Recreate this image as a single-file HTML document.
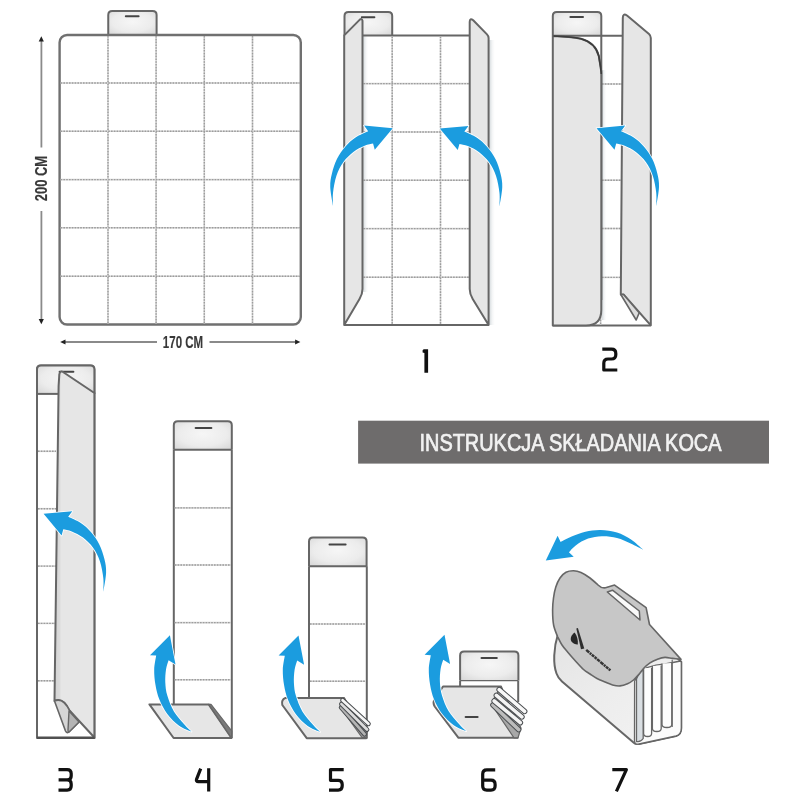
<!DOCTYPE html>
<html><head><meta charset="utf-8"><style>
html,body{margin:0;padding:0;background:#fff;}
svg{display:block;filter:blur(0.45px);}
.dt{stroke:#9c9c9c;stroke-width:1.4;stroke-dasharray:1.6 1.2;fill:none;}
.ar{stroke:#fff;stroke-width:1.6;paint-order:stroke;stroke-linejoin:round;}
.dtb{stroke:#d6d6d6;stroke-width:1.6;fill:none;}
.dim{stroke:#8a8a8a;stroke-width:1.8;}
.cm{font-family:"Liberation Sans",sans-serif;font-weight:bold;font-size:16px;fill:#383838;stroke:#383838;stroke-width:0.15;}
.ban{font-family:"Liberation Sans",sans-serif;font-weight:normal;font-size:23.5px;fill:#f2f2f2;stroke:#f2f2f2;stroke-width:0.7;}
</style></head><body>
<svg width="800" height="800" viewBox="0 0 800 800">
<defs>
<radialGradient id="tabg" cx="0.5" cy="0.45" r="0.7">
<stop offset="0" stop-color="#f6f6f6"/><stop offset="0.6" stop-color="#ececec"/><stop offset="1" stop-color="#d8d8d8"/>
</radialGradient>
<linearGradient id="strip3" x1="0" y1="0" x2="1" y2="0">
<stop offset="0" stop-color="#d2d2d2"/><stop offset="0.14" stop-color="#dcdcdc"/><stop offset="0.16" stop-color="#e6e6e6"/><stop offset="1" stop-color="#e6e6e6"/>
</linearGradient>
<linearGradient id="bodyg" x1="0" y1="0" x2="1" y2="1">
<stop offset="0" stop-color="#e4e4e4"/><stop offset="0.5" stop-color="#ededed"/><stop offset="1" stop-color="#f3f3f3"/>
</linearGradient>
<linearGradient id="shR" x1="0" y1="0" x2="1" y2="0">
<stop offset="0" stop-color="#c4ccd0" stop-opacity="0.75"/><stop offset="1" stop-color="#ffffff" stop-opacity="0"/>
</linearGradient>
</defs>
<path d="M108.25,35 V15 Q108.25,11 112.25,11 H152.6 Q156.6,11 156.6,15 V35" fill="url(#tabg)" stroke="#666666" stroke-width="2.0"/>
<line x1="125.8" y1="16.2" x2="138.6" y2="16.2" stroke="#444" stroke-width="2" stroke-linecap="round"/>
<rect x="59.6" y="35" width="241.2" height="289.5" rx="7.5" ry="7.5" fill="#fff" stroke="#707070" stroke-width="2.4"/>
<line x1="108" y1="36" x2="108" y2="323.5" class="dtb"/>
<line x1="108" y1="36" x2="108" y2="323.5" class="dt"/>
<line x1="156.1" y1="36" x2="156.1" y2="323.5" class="dtb"/>
<line x1="156.1" y1="36" x2="156.1" y2="323.5" class="dt"/>
<line x1="204.3" y1="36" x2="204.3" y2="323.5" class="dtb"/>
<line x1="204.3" y1="36" x2="204.3" y2="323.5" class="dt"/>
<line x1="252.5" y1="36" x2="252.5" y2="323.5" class="dtb"/>
<line x1="252.5" y1="36" x2="252.5" y2="323.5" class="dt"/>
<line x1="60.6" y1="83" x2="300" y2="83" class="dtb"/>
<line x1="60.6" y1="83" x2="300" y2="83" class="dt"/>
<line x1="60.6" y1="131.3" x2="300" y2="131.3" class="dtb"/>
<line x1="60.6" y1="131.3" x2="300" y2="131.3" class="dt"/>
<line x1="60.6" y1="179.6" x2="300" y2="179.6" class="dtb"/>
<line x1="60.6" y1="179.6" x2="300" y2="179.6" class="dt"/>
<line x1="60.6" y1="227.8" x2="300" y2="227.8" class="dtb"/>
<line x1="60.6" y1="227.8" x2="300" y2="227.8" class="dt"/>
<line x1="60.6" y1="276.2" x2="300" y2="276.2" class="dtb"/>
<line x1="60.6" y1="276.2" x2="300" y2="276.2" class="dt"/>
<line x1="41.4" y1="40" x2="41.4" y2="147.5" class="dim"/>
<line x1="41.4" y1="211" x2="41.4" y2="320" class="dim"/>
<path d="M41.3,36.3 L43.9,41.6 L38.7,41.6 Z" fill="#222"/>
<path d="M41.3,324.2 L43.9,318.9 L38.7,318.9 Z" fill="#222"/>
<line x1="64" y1="342" x2="157" y2="342" class="dim"/>
<line x1="209.5" y1="342" x2="296" y2="342" class="dim"/>
<path d="M60.2,342 L65.5,339.4 L65.5,344.6 Z" fill="#222"/>
<path d="M300.4,342 L295.1,339.4 L295.1,344.6 Z" fill="#222"/>
<text class="cm" transform="translate(47.2,178.5) rotate(-90) scale(0.77,1)" text-anchor="middle" style="font-size:16.8px">200 CM</text>
<text class="cm" transform="translate(183,347.9) scale(0.72,1)" text-anchor="middle">170 CM</text>
<path d="M344.5,35.6 V15.9 Q344.5,11.9 348.5,11.9 H388.2 Q392.2,11.9 392.2,15.9 V35.6" fill="url(#tabg)" stroke="#666666" stroke-width="2.0"/>
<line x1="361.8" y1="17.2" x2="374.4" y2="17.2" stroke="#444" stroke-width="2" stroke-linecap="round"/>
<rect x="362.5" y="35.6" width="107.2" height="289.4" fill="#fff"/>
<rect x="363.3" y="36" width="5.5" height="256" fill="url(#shR)"/>
<rect x="489.4" y="40" width="6" height="285" fill="url(#shR)"/>
<path d="M362.5,35.6 H469.7" fill="none" stroke="#666666" stroke-width="2.0" stroke-linejoin="round" />
<path d="M344.2,325 H488.6" fill="none" stroke="#666666" stroke-width="2.0" stroke-linejoin="round" />
<line x1="392.2" y1="36.5" x2="392.2" y2="324" class="dtb"/>
<line x1="392.2" y1="36.5" x2="392.2" y2="324" class="dt"/>
<line x1="440.5" y1="36.5" x2="440.5" y2="324" class="dtb"/>
<line x1="440.5" y1="36.5" x2="440.5" y2="324" class="dt"/>
<line x1="363.5" y1="83.6" x2="469" y2="83.6" class="dtb"/>
<line x1="363.5" y1="83.6" x2="469" y2="83.6" class="dt"/>
<line x1="363.5" y1="132" x2="469" y2="132" class="dtb"/>
<line x1="363.5" y1="132" x2="469" y2="132" class="dt"/>
<line x1="363.5" y1="180.2" x2="469" y2="180.2" class="dtb"/>
<line x1="363.5" y1="180.2" x2="469" y2="180.2" class="dt"/>
<line x1="363.5" y1="228.6" x2="469" y2="228.6" class="dtb"/>
<line x1="363.5" y1="228.6" x2="469" y2="228.6" class="dt"/>
<line x1="363.5" y1="277.2" x2="469" y2="277.2" class="dtb"/>
<line x1="363.5" y1="277.2" x2="469" y2="277.2" class="dt"/>
<path d="M344.2,325 V35.4 L359.8,19.6 Q361.8,18 362.5,20.8 V289 Q362.5,294 359.5,299 L344.2,325 Z" fill="#e6e6e6" stroke="#666666" stroke-width="2.0" stroke-linejoin="round" />
<path d="M488.6,325 V38 Q488.6,36 487,34.4 L473.2,20.3 Q469.7,17.5 469.7,22 V289 Q469.7,294 472.7,299 L488.6,325 Z" fill="#e6e6e6" stroke="#666666" stroke-width="2.0" stroke-linejoin="round" />
<path transform="translate(392.75,128.2) scale(-1,1)" d="M0,0 L28.7,-2.6 L24.6,3 C26.7,4.03 33.42,6.67 37.2,9.2 C40.98,11.73 44.22,14.63 47.3,18.2 C50.38,21.77 53.45,26.1 55.7,30.6 C57.95,35.1 59.67,40.52 60.8,45.2 C61.93,49.88 62.68,53.25 62.5,58.7 C62.32,64.15 60.17,74.7 59.7,77.9 C59.7,75.63 60.27,69.37 59.7,64.3 C59.13,59.23 58,52.55 56.3,47.5 C54.6,42.45 52.32,37.95 49.5,34 C46.68,30.05 42.95,26.53 39.4,23.8 C35.85,21.07 31.48,19 28.2,17.6 C24.92,16.2 21.12,15.77 19.7,15.4 L18,21.6 Z" fill="#1b9cdf" class="ar"/>
<path transform="translate(439.75,128.5)" d="M0,0 L28.7,-2.6 L24.6,3 C26.7,4.03 33.42,6.67 37.2,9.2 C40.98,11.73 44.22,14.63 47.3,18.2 C50.38,21.77 53.45,26.1 55.7,30.6 C57.95,35.1 59.67,40.52 60.8,45.2 C61.93,49.88 62.68,53.25 62.5,58.7 C62.32,64.15 60.17,74.7 59.7,77.9 C59.7,75.63 60.27,69.37 59.7,64.3 C59.13,59.23 58,52.55 56.3,47.5 C54.6,42.45 52.32,37.95 49.5,34 C46.68,30.05 42.95,26.53 39.4,23.8 C35.85,21.07 31.48,19 28.2,17.6 C24.92,16.2 21.12,15.77 19.7,15.4 L18,21.6 Z" fill="#1b9cdf" class="ar"/>
<path d="M552.8,35.7 V16 Q552.8,12 556.8,12 H597.3 Q601.3,12 601.3,16 V35.7" fill="url(#tabg)" stroke="#666666" stroke-width="2.0"/>
<line x1="570.4" y1="16.9" x2="583" y2="16.9" stroke="#444" stroke-width="2" stroke-linecap="round"/>
<rect x="601.3" y="35.7" width="21.5" height="289.8" fill="#fff"/>
<rect x="602" y="70" width="5" height="250" fill="url(#shR)"/>
<path d="M552.8,35.7 H622.8" fill="none" stroke="#666666" stroke-width="2.0" stroke-linejoin="round" />
<path d="M552.8,325.5 H650.8" fill="none" stroke="#666666" stroke-width="2.0" stroke-linejoin="round" />
<line x1="602" y1="84" x2="622" y2="84" class="dtb"/>
<line x1="602" y1="84" x2="622" y2="84" class="dt"/>
<line x1="602" y1="132.2" x2="622" y2="132.2" class="dtb"/>
<line x1="602" y1="132.2" x2="622" y2="132.2" class="dt"/>
<line x1="602" y1="180.2" x2="622" y2="180.2" class="dtb"/>
<line x1="602" y1="180.2" x2="622" y2="180.2" class="dt"/>
<line x1="602" y1="228.5" x2="622" y2="228.5" class="dtb"/>
<line x1="602" y1="228.5" x2="622" y2="228.5" class="dt"/>
<line x1="602" y1="277.4" x2="622" y2="277.4" class="dtb"/>
<line x1="602" y1="277.4" x2="622" y2="277.4" class="dt"/>
<path d="M601.3,35.7 V300" fill="none" stroke="#666666" stroke-width="2.0" stroke-linejoin="round" />
<line x1="600.6" y1="300" x2="600.6" y2="324.5" class="dtb"/>
<line x1="600.6" y1="300" x2="600.6" y2="324.5" class="dt"/>
<path d="M552.8,325.5 V36 Q571,36.6 581,38.8 C591,41.5 596.5,47 598.8,56 L600.6,67 L601.3,72 V310 Q601.3,325.5 586,325.5 Z" fill="#e6e6e6" stroke="#666666" stroke-width="2.0" stroke-linejoin="round" />
<path d="M553.5,36 Q571,36.6 581,38.8 C591,41.5 596.5,47 598.8,56 L600.6,67 L601.3,74" fill="none" stroke="#3c3c3c" stroke-width="1.6" stroke-linejoin="round" />
<path d="M650.8,325.3 V38 Q650.8,35.6 649,34 L627,15.5 Q622.8,12.8 622.8,18 L620.8,294.5 H623.5 L650.8,325.3 Z" fill="#e6e6e6" stroke="#666666" stroke-width="2.0" stroke-linejoin="round" />
<path d="M620.8,294.5 H623.5 L639.2,312.8 L636.2,320 Z" fill="#dedede" stroke="#666666" stroke-width="1.6" stroke-linejoin="round" />
<path transform="translate(596.5,128.2)" d="M0,0 L28.7,-2.6 L24.6,3 C26.7,4.03 33.42,6.67 37.2,9.2 C40.98,11.73 44.22,14.63 47.3,18.2 C50.38,21.77 53.45,26.1 55.7,30.6 C57.95,35.1 59.67,40.52 60.8,45.2 C61.93,49.88 62.68,53.25 62.5,58.7 C62.32,64.15 60.17,74.7 59.7,77.9 C59.7,75.63 60.27,69.37 59.7,64.3 C59.13,59.23 58,52.55 56.3,47.5 C54.6,42.45 52.32,37.95 49.5,34 C46.68,30.05 42.95,26.53 39.4,23.8 C35.85,21.07 31.48,19 28.2,17.6 C24.92,16.2 21.12,15.77 19.7,15.4 L18,21.6 Z" fill="#1b9cdf" class="ar"/>
<rect x="358.1" y="420.7" width="410.9" height="42.9" fill="#6e6c6c"/>
<text class="ban" transform="translate(570.5,450.7) scale(0.848,1)" text-anchor="middle">INSTRUKCJA SKŁADANIA KOCA</text>
<path d="M37,738 V369.6 Q37,365.6 41,365.6 H90.4 Q94.4,365.6 94.4,369.6 V738 Z" fill="#fff" stroke="#666666" stroke-width="2.0" stroke-linejoin="round" />
<path d="M37,393.9 V369.6 Q37,365.6 41,365.6 H90.4 Q94.4,365.6 94.4,369.6 V393.9" fill="url(#tabg)" stroke="#666666" stroke-width="2.0"/>
<line x1="59.6" y1="371.8" x2="73.4" y2="371.8" stroke="#444" stroke-width="2" stroke-linecap="round"/>
<line x1="38" y1="451.3" x2="56" y2="451.3" class="dtb"/>
<line x1="38" y1="451.3" x2="56" y2="451.3" class="dt"/>
<line x1="38" y1="508.7" x2="56" y2="508.7" class="dtb"/>
<line x1="38" y1="508.7" x2="56" y2="508.7" class="dt"/>
<line x1="38" y1="566.1" x2="56" y2="566.1" class="dtb"/>
<line x1="38" y1="566.1" x2="56" y2="566.1" class="dt"/>
<line x1="38" y1="623.4" x2="56" y2="623.4" class="dtb"/>
<line x1="38" y1="623.4" x2="56" y2="623.4" class="dt"/>
<line x1="38" y1="680.8" x2="56" y2="680.8" class="dtb"/>
<line x1="38" y1="680.8" x2="56" y2="680.8" class="dt"/>
<line x1="37" y1="393.9" x2="58.6" y2="393.9" stroke="#666666" stroke-width="2.0"/>
<path d="M94.4,738 V393 L63,372 Q60,370.3 59.3,374.5 L58.6,386 L54.5,701 Q63,697 69.5,710.5 L94.4,737.5 Z" fill="url(#strip3)" stroke="#666666" stroke-width="2.0" stroke-linejoin="round" />
<path d="M54.5,701 Q63,697 69.5,710.5 L79,722 L69.5,731.5 Q67,734 65.5,731 Z" fill="#d6d6d6" stroke="#666666" stroke-width="1.6" stroke-linejoin="round" />
<path d="M69,711 L79,722 L69.5,731.5 Q68,733 68,730 Z" fill="#b4b4b4" stroke="#666666" stroke-width="1.4" stroke-linejoin="round" />
<line x1="37" y1="737.7" x2="94.6" y2="737.7" stroke="#505050" stroke-width="2.4"/>
<path transform="translate(43.6,513.8)" d="M0,0 L28.7,-2.6 L24.6,3 C26.7,4.03 33.42,6.67 37.2,9.2 C40.98,11.73 44.22,14.63 47.3,18.2 C50.38,21.77 53.45,26.1 55.7,30.6 C57.95,35.1 59.67,40.52 60.8,45.2 C61.93,49.88 62.68,53.25 62.5,58.7 C62.32,64.15 60.17,74.7 59.7,77.9 C59.7,75.63 60.27,69.37 59.7,64.3 C59.13,59.23 58,52.55 56.3,47.5 C54.6,42.45 52.32,37.95 49.5,34 C46.68,30.05 42.95,26.53 39.4,23.8 C35.85,21.07 31.48,19 28.2,17.6 C24.92,16.2 21.12,15.77 19.7,15.4 L18,21.6 Z" fill="#1b9cdf" class="ar"/>
<rect x="173.8" y="421.3" width="58" height="316.8" fill="#fff"/>
<path d="M173.8,449.8 V425.3 Q173.8,421.3 177.8,421.3 H227.8 Q231.8,421.3 231.8,425.3 V449.8" fill="url(#tabg)" stroke="#666666" stroke-width="2.0"/>
<line x1="195.6" y1="428" x2="211.4" y2="428" stroke="#444" stroke-width="2" stroke-linecap="round"/>
<path d="M173.8,449.8 V704.4" fill="none" stroke="#666666" stroke-width="2.0" stroke-linejoin="round" />
<path d="M173.8,449.8 H231.8" fill="none" stroke="#666666" stroke-width="2.0" stroke-linejoin="round" />
<path d="M231.8,449.8 V738" fill="none" stroke="#666666" stroke-width="2.0" stroke-linejoin="round" />
<line x1="174.8" y1="507.9" x2="231" y2="507.9" class="dtb"/>
<line x1="174.8" y1="507.9" x2="231" y2="507.9" class="dt"/>
<line x1="174.8" y1="565" x2="231" y2="565" class="dtb"/>
<line x1="174.8" y1="565" x2="231" y2="565" class="dt"/>
<line x1="174.8" y1="622.6" x2="231" y2="622.6" class="dtb"/>
<line x1="174.8" y1="622.6" x2="231" y2="622.6" class="dt"/>
<line x1="174.8" y1="679.8" x2="231" y2="679.8" class="dtb"/>
<line x1="174.8" y1="679.8" x2="231" y2="679.8" class="dt"/>
<path d="M149.4,704.4 H208.7 L231.5,738 H173.6 Z" fill="#e6e6e6" stroke="#666666" stroke-width="2.0" stroke-linejoin="round" />
<path d="M208.7,704.4 L231.5,738 L231.8,731 L211,704.4 Z" fill="#7a7a7a" stroke="#666666" stroke-width="1.2" stroke-linejoin="round" />
<path transform="translate(169.9,635.25)" d="M0,0 L-19.9,19.95 L-13.7,20.35 C-14.03,22.65 -15.58,29.23 -15.7,34.15 C-15.82,39.07 -15.27,44.82 -14.4,49.85 C-13.53,54.88 -12.47,59.53 -10.5,64.35 C-8.53,69.17 -5.88,74.38 -2.6,78.75 C0.68,83.12 5.15,87.6 9.2,90.55 C13.25,93.5 19.62,95.47 21.7,96.45 C20.5,95.25 17.45,92.63 14.5,89.25 C11.55,85.87 6.85,80.97 4,76.15 C1.15,71.33 -1.17,65.17 -2.6,60.35 C-4.03,55.53 -4.38,51.62 -4.6,47.25 C-4.82,42.88 -4.45,37.87 -3.9,34.15 C-3.35,30.43 -1.73,26.48 -1.3,24.95 L5.6,29.15 Z" fill="#1b9cdf" class="ar"/>
<rect x="309" y="537.5" width="57.6" height="200" fill="#fff"/>
<path d="M309,566.2 V541.5 Q309,537.5 313,537.5 H362.6 Q366.6,537.5 366.6,541.5 V566.2" fill="url(#tabg)" stroke="#666666" stroke-width="2.0"/>
<line x1="329.5" y1="544.5" x2="345.6" y2="544.5" stroke="#444" stroke-width="2" stroke-linecap="round"/>
<path d="M309,566.2 V697.5" fill="none" stroke="#666666" stroke-width="2.0" stroke-linejoin="round" />
<path d="M309,566.2 H366.8" fill="none" stroke="#666666" stroke-width="2.0" stroke-linejoin="round" />
<path d="M366.8,566.2 V738.5" fill="none" stroke="#666666" stroke-width="2.0" stroke-linejoin="round" />
<line x1="310" y1="624" x2="365.6" y2="624" class="dtb"/>
<line x1="310" y1="624" x2="365.6" y2="624" class="dt"/>
<line x1="310" y1="681.2" x2="365.6" y2="681.2" class="dtb"/>
<line x1="310" y1="681.2" x2="365.6" y2="681.2" class="dt"/>
<path d="M285.5,697.9 H344 L366.3,738.2 H306.7 L282.3,705 Q281,699.8 285.5,697.9 Z" fill="#e6e6e6" stroke="#666666" stroke-width="2.0" stroke-linejoin="round" />
<path d="M344,698 L341,702 L340,707 L362,737.5 H366.3 L367,731 Z" fill="#9a9a9a" stroke="#666666" stroke-width="1.2" stroke-linejoin="round" />
<line x1="341.2" y1="707.5" x2="364.5" y2="734.2" stroke="#4a4d50" stroke-width="4.8" stroke-linecap="round"/>
<line x1="341.2" y1="707.5" x2="364.5" y2="734.2" stroke="#b4b4b4" stroke-width="2.8" stroke-linecap="round"/>
<line x1="341.5" y1="704" x2="367" y2="729.6" stroke="#4a4d50" stroke-width="4.8" stroke-linecap="round"/>
<line x1="341.5" y1="704" x2="367" y2="729.6" stroke="#dcdcdc" stroke-width="2.8" stroke-linecap="round"/>
<line x1="342.6" y1="700.2" x2="368.4" y2="723.8" stroke="#4a4d50" stroke-width="4.8" stroke-linecap="round"/>
<line x1="342.6" y1="700.2" x2="368.4" y2="723.8" stroke="#f6f6f6" stroke-width="2.8" stroke-linecap="round"/>
<path transform="translate(298.5,635.5)" d="M0,0 L-19.9,19.95 L-13.7,20.35 C-14.03,22.65 -15.58,29.23 -15.7,34.15 C-15.82,39.07 -15.27,44.82 -14.4,49.85 C-13.53,54.88 -12.47,59.53 -10.5,64.35 C-8.53,69.17 -5.88,74.38 -2.6,78.75 C0.68,83.12 5.15,87.6 9.2,90.55 C13.25,93.5 19.62,95.47 21.7,96.45 C20.5,95.25 17.45,92.63 14.5,89.25 C11.55,85.87 6.85,80.97 4,76.15 C1.15,71.33 -1.17,65.17 -2.6,60.35 C-4.03,55.53 -4.38,51.62 -4.6,47.25 C-4.82,42.88 -4.45,37.87 -3.9,34.15 C-3.35,30.43 -1.73,26.48 -1.3,24.95 L5.6,29.15 Z" fill="#1b9cdf" class="ar"/>
<path d="M460.1,680.6 V655.4 Q460.1,651.4 464.1,651.4 H514.4 Q518.4,651.4 518.4,655.4 V680.6" fill="url(#tabg)" stroke="#666666" stroke-width="2.0"/>
<line x1="481.5" y1="658.1" x2="496.8" y2="658.1" stroke="#444" stroke-width="2" stroke-linecap="round"/>
<rect x="460.1" y="680.6" width="58.3" height="10" fill="#fff"/>
<path d="M460.1,680.6 V690" fill="none" stroke="#666666" stroke-width="2.0" stroke-linejoin="round" />
<path d="M460.1,680.6 H518.2" fill="none" stroke="#666666" stroke-width="1.4" stroke-linejoin="round" />
<path d="M518.2,680.6 V702" fill="none" stroke="#666666" stroke-width="2.0" stroke-linejoin="round" />
<path d="M443,686.5 H501 L517.5,737.8 H458.5 L434.7,706.5 Q432.5,703 434.5,699.5 Z" fill="#e6e6e6" stroke="#666666" stroke-width="2.0" stroke-linejoin="round" />
<line x1="465.6" y1="717" x2="477.6" y2="717" stroke="#444" stroke-width="2" stroke-linecap="round"/>
<path d="M501,686.5 L493,700 L492.5,706 L514,737.8 H518 L521,728 Z" fill="#a8a8a8" stroke="#666666" stroke-width="1.2" stroke-linejoin="round" />
<line x1="493" y1="705" x2="518.6" y2="729.5" stroke="#4a4d50" stroke-width="5.6" stroke-linecap="round"/>
<line x1="493" y1="705" x2="518.6" y2="729.5" stroke="#bcbcbc" stroke-width="3.6" stroke-linecap="round"/>
<line x1="494.2" y1="701" x2="520.3" y2="722.6" stroke="#4a4d50" stroke-width="5.6" stroke-linecap="round"/>
<line x1="494.2" y1="701" x2="520.3" y2="722.6" stroke="#f4f4f4" stroke-width="3.6" stroke-linecap="round"/>
<line x1="496.4" y1="695.4" x2="521.9" y2="716.9" stroke="#4a4d50" stroke-width="5.6" stroke-linecap="round"/>
<line x1="496.4" y1="695.4" x2="521.9" y2="716.9" stroke="#f4f4f4" stroke-width="3.6" stroke-linecap="round"/>
<line x1="499.2" y1="689.6" x2="524.6" y2="711.4" stroke="#4a4d50" stroke-width="5.6" stroke-linecap="round"/>
<line x1="499.2" y1="689.6" x2="524.6" y2="711.4" stroke="#f8f8f8" stroke-width="3.6" stroke-linecap="round"/>
<path transform="translate(444.5,634.8)" d="M0,0 L-19.9,19.95 L-13.7,20.35 C-14.03,22.65 -15.58,29.23 -15.7,34.15 C-15.82,39.07 -15.27,44.82 -14.4,49.85 C-13.53,54.88 -12.47,59.53 -10.5,64.35 C-8.53,69.17 -5.88,74.38 -2.6,78.75 C0.68,83.12 5.15,87.6 9.2,90.55 C13.25,93.5 19.62,95.47 21.7,96.45 C20.5,95.25 17.45,92.63 14.5,89.25 C11.55,85.87 6.85,80.97 4,76.15 C1.15,71.33 -1.17,65.17 -2.6,60.35 C-4.03,55.53 -4.38,51.62 -4.6,47.25 C-4.82,42.88 -4.45,37.87 -3.9,34.15 C-3.35,30.43 -1.73,26.48 -1.3,24.95 L5.6,29.15 Z" fill="#1b9cdf" class="ar"/>
<path d="M558,634 C553.5,648 553,664 556.5,673.5 Q558,678 562,681.5 L633.5,742.5 Q635.5,744.5 639,744 L676,736 Q681.3,734.5 681.3,728 V662 L660,640 Z" fill="url(#bodyg)" stroke="#666666" stroke-width="2.0" stroke-linejoin="round" />
<path d="M634.6,681 Q640,672 647,667.6 Q656,664.5 665,663.9 Q673,662.5 680.5,661 Q681.3,661.5 681.3,663 V728 Q681.3,734.5 676,736 L639,744 Q635,745 634.5,741 Z" fill="#fbfbfb" stroke="#666666" stroke-width="1.3" stroke-linejoin="round" />
<path d="M636.5,679 Q639,672 643.2,670 V738.5 Q640.5,742.5 636.5,741.5 Z" fill="#d9dee2" stroke="#666666" stroke-width="1.3" stroke-linejoin="round" />
<path d="M643.6,668.3 V733.5 Q643.6,736.5 647.6,736.5 Q651.6,736.5 651.6,733.5 V667.8" fill="#fdfdfd" stroke="#666666" stroke-width="1.3" stroke-linejoin="round" />
<path d="M652.4,666 V728.5 Q652.4,731.5 656.8,731.5 Q661.2,731.5 661.2,728.5 V665.5" fill="#fdfdfd" stroke="#666666" stroke-width="1.3" stroke-linejoin="round" />
<path d="M662,663.5 V724.5 Q662,727.5 666.9,727.5 Q671.8,727.5 671.8,724.5 V663" fill="#fdfdfd" stroke="#666666" stroke-width="1.3" stroke-linejoin="round" />
<path d="M672.2,659.8 V727" fill="none" stroke="#666666" stroke-width="1.2" stroke-linejoin="round" />
<path d="M557.5,636.5 C556.85,634.58 554.42,629.42 553.6,625 C552.78,620.58 552.62,614.5 552.6,610 C552.58,605.5 552.97,601.83 553.5,598 C554.03,594.17 554.72,590.33 555.8,587 C556.88,583.67 558.3,580.45 560,578 C561.7,575.55 563.75,573.5 566,572.3 C568.25,571.1 571,570.77 573.5,570.8 C576,570.83 578.25,571.3 581,572.5 C583.75,573.7 587.17,575.92 590,578 C592.83,580.08 596.67,583.83 598,585 Q601.5,588.5 605.5,587.8 L614.6,585.1 L646.1,607.6 L649.5,624.5 L681,659.4 C679.58,659.23 675.17,658.73 672.5,658.4 C669.83,658.07 667.5,657.27 665,657.4 C662.5,657.53 660,658.3 657.5,659.2 C655,660.1 652.25,661.33 650,662.8 C647.75,664.27 645.88,666.03 644,668 C642.12,669.97 640.45,672.6 638.7,674.6 C636.95,676.6 635.37,678.47 633.5,680 C631.63,681.53 629.75,682.82 627.5,683.8 C625.25,684.78 622.5,685.72 620,685.9 C617.5,686.08 615,685.55 612.5,684.9 C610,684.25 607.58,683.07 605,682 C602.42,680.93 599.5,679.83 597,678.5 C594.5,677.17 592.25,675.5 590,674 C587.75,672.5 586,671.75 583.5,669.5 C581,667.25 577.58,663.33 575,660.5 C572.42,657.67 570.17,655.08 568,652.5 C565.83,649.92 563.75,647.67 562,645 C560.25,642.33 558.25,637.92 557.5,636.5 Z" fill="#c7c7c7" stroke="#666666" stroke-width="1.6" stroke-linejoin="round" />
<path d="M607.3,592 L612.5,590.2 L639.3,611 L640,620 Z" fill="#fafafa" stroke="#666666" stroke-width="1.5" stroke-linejoin="round" />
<path d="M574.6,632.4 C571,635 569.8,639 571.5,641.5 C573,643.5 576,644.8 577.8,644.5 C578.3,640 577,635.5 574.6,632.4 Z" fill="#262626"/>
<path d="M576.3,628.4 L577.9,627.9 L584.3,648.4 L581,649.2 Z" fill="#2e2e2e"/>
<line x1="586.2" y1="649.9" x2="610.4" y2="670.4" stroke="#363636" stroke-width="2.5" stroke-dasharray="4 0.7 2 0.7 3 0.7 2.5 0.7 3.5 0.7"/>
<path d="M545.8,560.6 L557.6,535.8 L560.6,542 C562.43,541.08 567.47,538.22 571.6,536.5 C575.73,534.78 580.58,532.8 585.4,531.7 C590.22,530.6 595.23,529.78 600.5,529.9 C605.77,530.02 611.97,530.85 617,532.4 C622.03,533.95 626.35,536.33 630.7,539.2 C635.05,542.07 641.03,547.87 643.1,549.6 C641.03,548.57 635.05,545.35 630.7,543.4 C626.35,541.45 621.8,539.1 617,537.9 C612.2,536.7 606.72,536.08 601.9,536.2 C597.08,536.32 592.47,537.07 588.1,538.6 C583.73,540.13 578.9,543.12 575.7,545.4 C572.5,547.68 570.03,551.15 568.9,552.3 L573.7,556.8 Z" fill="#1b9cdf" class="ar"/>
<path d="M422.6,350.3 L423.7,349.2 H428.1 V372.8 H424.4 V353 L422.6,352.6 Z" fill="#111"/>
<path d="M602.3,349.2 H611.5 Q615.8,349.2 615.8,353.5 V354.8 Q615.8,359 611.5,359 H608 Q603.8,359 603.8,363.2 V370 H617.3" fill="none" stroke="#111" stroke-width="3.2" stroke-linejoin="round"/>
<path d="M58.5,769.6 H67.2 Q71.2,769.6 71.2,773.6 V775.9 Q71.2,779.9 67.2,779.9 H58.6 M67.2,779.9 Q71.2,779.9 71.2,783.9 V786.1 Q71.2,790.1 67.2,790.1 H58.5" fill="none" stroke="#111" stroke-width="3.2" stroke-linejoin="round"/>
<path d="M200.7,768.6 L196.5,779.3 Q195.9,781.6 198.3,781.6 H210 M208.7,768.3 V791.6" fill="none" stroke="#111" stroke-width="3.2" stroke-linejoin="round"/>
<path d="M343.7,769.6 H330.5 V780.3 H338.2 Q342.2,780.3 342.2,784.3 V786.1 Q342.2,790.1 338.2,790.1 H329" fill="none" stroke="#111" stroke-width="3.2" stroke-linejoin="round"/>
<path d="M495.2,769.8 H486.8 Q482.7,769.8 482.7,773.9 V786.1 Q482.7,790.2 486.8,790.2 H491 Q495.1,790.2 495.1,786.1 V784.2 Q495.1,780.1 491,780.1 H482.7" fill="none" stroke="#111" stroke-width="3.2" stroke-linejoin="round"/>
<path d="M612.3,769.7 H626.4 L616.4,791.3" fill="none" stroke="#111" stroke-width="3.2" stroke-linejoin="round"/>
</svg>
</body></html>
